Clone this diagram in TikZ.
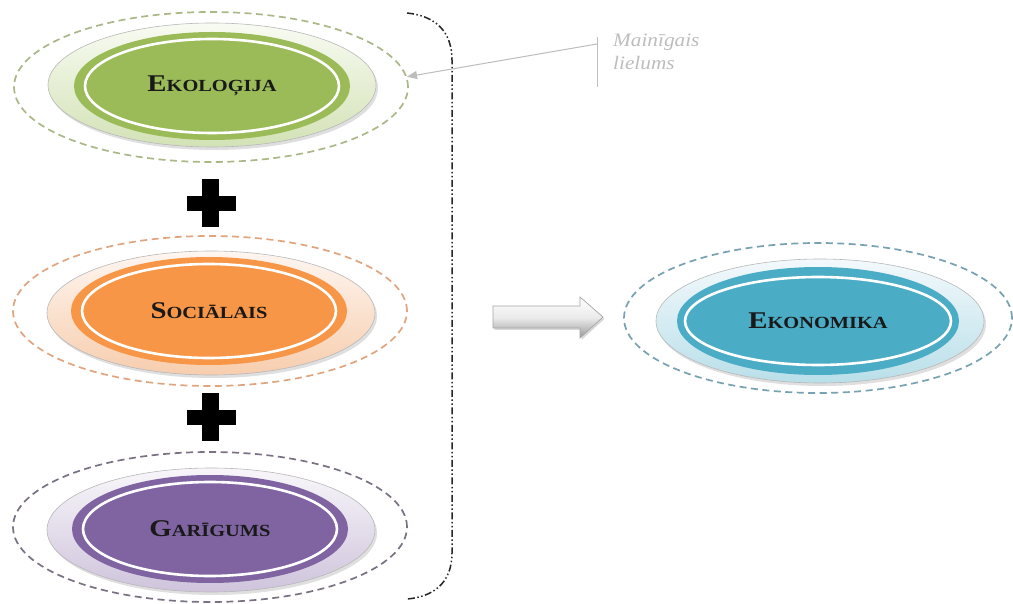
\documentclass[tikz,border=0pt]{standalone}
\usepackage{fontspec}
\setmainfont{Liberation Serif}
\newfontfamily\capsfont[FakeStretch=1.2]{Liberation Serif}
\newfontfamily\notefont[FakeStretch=1.12]{Liberation Serif}
\usetikzlibrary{shapes.geometric,shadows,arrows.meta}

% palette
\definecolor{ecoCore}{HTML}{9BBB59}
\definecolor{ecoTop}{HTML}{F8FBF2}
\definecolor{ecoBot}{HTML}{D3E2B6}
\definecolor{ecoHalo}{HTML}{A9B886}
\definecolor{socCore}{HTML}{F79646}
\definecolor{socTop}{HTML}{FEF6F0}
\definecolor{socBot}{HTML}{F7CDAE}
\definecolor{socHalo}{HTML}{E0A57E}
\definecolor{garCore}{HTML}{8064A2}
\definecolor{garTop}{HTML}{F8F6FA}
\definecolor{garBot}{HTML}{CFC4DC}
\definecolor{garHalo}{HTML}{7A7184}
\definecolor{ekoCore}{HTML}{4BACC6}
\definecolor{ekoTop}{HTML}{F3F9FC}
\definecolor{ekoBot}{HTML}{B9DFE9}
\definecolor{ekoHalo}{HTML}{77A2B2}
\definecolor{noteGray}{HTML}{BDBDBD}

% small caps built from two sizes of bold serif
\newcommand\sclabel[2]{{\fontsize{24}{24}\selectfont #1}{\fontsize{17}{17}\selectfont #2}}

\tikzset{
  halo/.style={ellipse, draw=#1, line width=1.7pt, dash pattern=on 7pt off 4.5pt,
    minimum width=394pt, minimum height=150pt, inner sep=0pt},
  plate/.style 2 args={ellipse, draw=black!28, line width=0.6pt,
    top color=#1, bottom color=#2, minimum width=328pt, minimum height=124pt,
    inner sep=0pt, drop shadow={shadow xshift=2pt, shadow yshift=-3pt, opacity=0.25}},
  core/.style={ellipse, fill=#1, minimum width=276pt, minimum height=108pt,
    inner sep=0pt, text=black!90, font=\capsfont\bfseries},
  ring/.style={ellipse, draw=white, line width=2.6pt, minimum width=254pt,
    minimum height=94pt, inner sep=0pt},
  plus/.style={fill=black},
  bracket/.style={draw=black!85, line width=1.5pt,
    dash pattern=on 7pt off 2.5pt on 1.5pt off 2.5pt on 1.5pt off 2.5pt},
  pointer/.style={draw=noteGray, line width=1pt, -{Triangle[length=10pt,width=8pt]}},
  notetext/.style={anchor=base west, inner sep=0pt, text=noteGray,
    font=\notefont\itshape\fontsize{19}{19}\selectfont},
  blockarrow/.style={draw=black!35, line width=0.7pt, top color=white,
    bottom color=black!40, middle color=black!8,
    drop shadow={shadow xshift=1.5pt, shadow yshift=-2pt, opacity=0.3}}
}

\begin{document}
\begin{tikzpicture}[x=1pt, y=-1pt]
\useasboundingbox (0,0) rectangle (1013,604);
\fill[white] (0,0) rectangle (1013,604);

% Ekoloģija
\node[halo=ecoHalo] (eco-halo) at (211,87) {};
\node[plate={ecoTop}{ecoBot}] (eco-plate) at (212,85) {};
\node[core=ecoCore] (eco) at (212,86) {\sclabel{E}{KOLOĢIJA}};
\node[ring] (eco-ring) at (212,86) {};

% Sociālais
\node[halo=socHalo] (soc-halo) at (210,311) {};
\node[plate={socTop}{socBot}] (soc-plate) at (211,313) {};
\node[core=socCore] (soc) at (209,311) {\sclabel{S}{OCIĀLAIS}};
\node[ring] (soc-ring) at (209,311) {};

% Garīgums
\node[halo=garHalo] (gar-halo) at (210,527) {};
\node[plate={garTop}{garBot}] (gar-plate) at (211,530) {};
\node[core=garCore] (gar) at (210,529) {\sclabel{G}{ARĪGUMS}};
\node[ring] (gar-ring) at (210,529) {};

% Ekonomika
\node[halo=ekoHalo, minimum width=388pt] (eko-halo) at (818,318) {};
\node[plate={ekoTop}{ekoBot}] (eko-plate) at (820,321) {};
\node[core=ekoCore, minimum width=282pt] (eko) at (818,321) {\sclabel{E}{KONOMIKA}};
\node[ring, minimum width=266pt, minimum height=88pt] (eko-ring) at (818,321) {};

% plus signs
\fill[plus] (202,179) rectangle (219,227);
\fill[plus] (187,196) rectangle (236,211);
\fill[plus] (202,393) rectangle (219,441);
\fill[plus] (187,410) rectangle (236,425);

% brace around the three components
\draw[bracket] (407,13) .. controls (436,16) and (452,32) .. (452,60)
  -- (452,553) .. controls (452,584) and (432,597) .. (407,599);

% block arrow towards the result
\path[blockarrow] (493,306) -- (580,306) -- (580,297) -- (603,317)
  -- (580,338) -- (580,328) -- (493,328) -- cycle;

% callout
\coordinate (bar-top) at (597,37);
\coordinate (bar-bot) at (597,87);
\coordinate (tag) at (597,44);
\draw[draw=noteGray, line width=1pt] (bar-top) -- (bar-bot);
\draw[pointer] (tag) -- (eco-halo.3);
\node[notetext] (note1) at (613,47) {Mainīgais};
\node[notetext] (note2) at (613,70) {lielums};
\end{tikzpicture}
\end{document}
